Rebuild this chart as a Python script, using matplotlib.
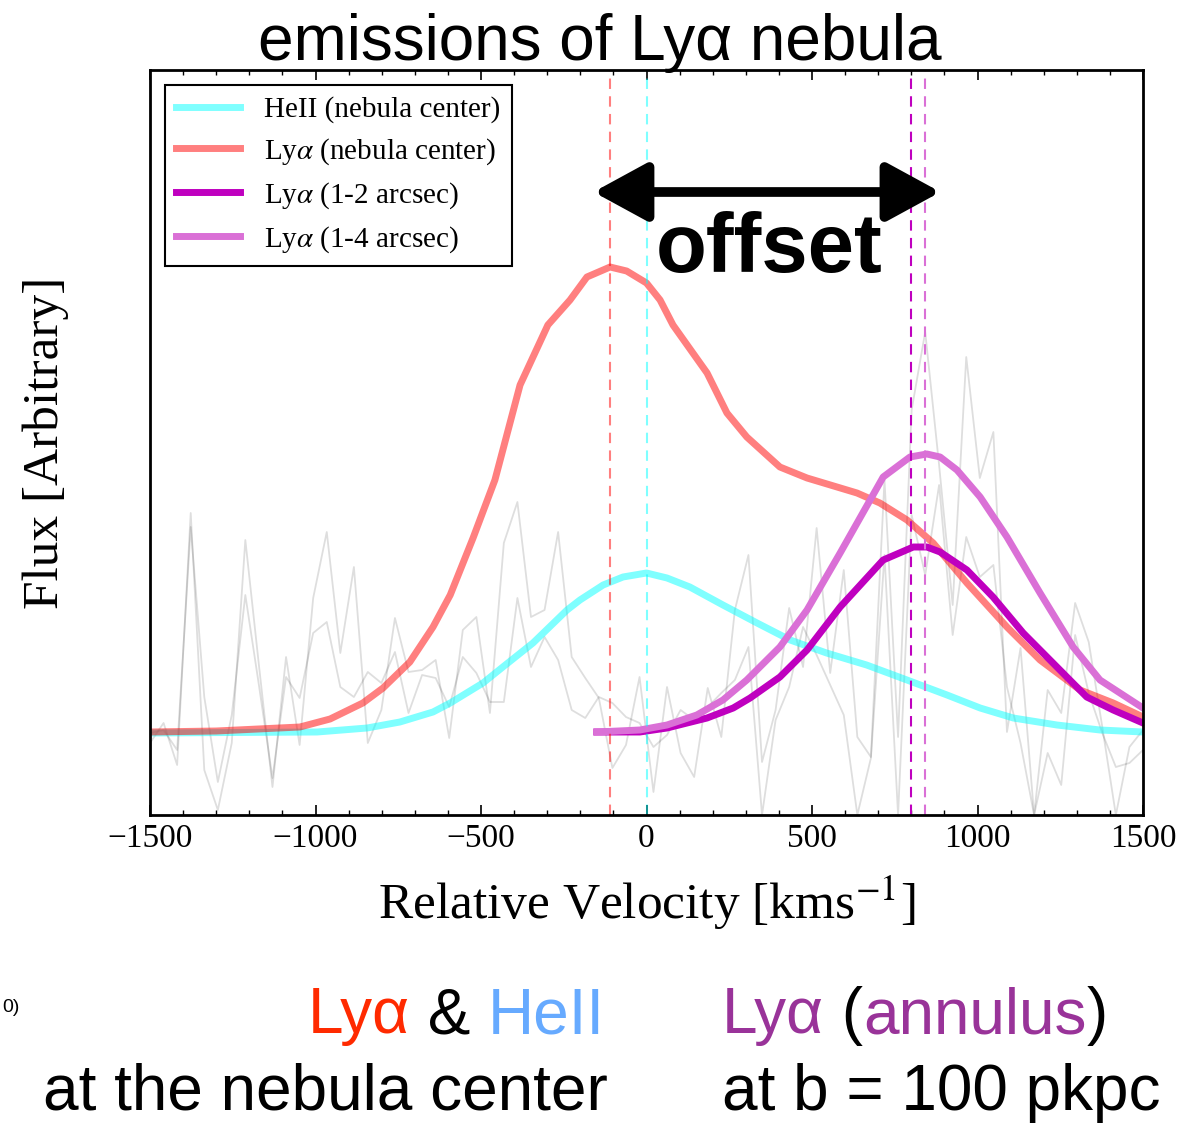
import numpy as np
import matplotlib
matplotlib.use('Agg')
import matplotlib.pyplot as plt

plt.rcParams['font.family'] = 'serif'
plt.rcParams['font.serif'] = ['Liberation Serif', 'DejaVu Serif']
plt.rcParams['mathtext.fontset'] = 'stix'

W, H = 1201, 1124

# ---- data (flux in arbitrary units) ----
heii_v = [-1500, -995, -844, -745, -645, -593, -494, -434, -343, -240, -201, -131, -71, 0,
          62, 131, 231, 334, 434, 544, 665, 787, 908, 1008, 1108, 1240, 1370, 1500]
heii_f = [82, 83, 87, 93, 103, 112, 132, 148, 172, 205, 215, 230, 238, 242,
          237, 228, 210, 192, 175, 162, 150, 135, 120, 107, 97, 90, 85, 83]

lya_v = [-1500, -1300, -1047, -956, -857, -796, -715, -645, -593, -524, -458, -382, -298, -231,
         -180, -110, -60, 0, 41, 80, 183, 243, 303, 403, 485, 636, 705, 787, 866, 968, 1089,
         1189, 1310, 1410, 1500]
lya_f = [83, 84, 88, 96, 112, 127, 153, 188, 220, 277, 335, 430, 490, 515,
         538, 548, 544, 532, 515, 490, 442, 402, 378, 348, 337, 322, 312, 295, 272, 232, 188,
         155, 125, 112, 98]

ann12_v = [-150, -20, 62, 183, 262, 313, 403, 485, 585, 715, 806, 847, 887, 968, 1047, 1138,
           1240, 1330, 1410, 1500]
ann12_f = [83, 83, 87, 97, 107, 117, 138, 165, 208, 255, 268, 268, 263, 245, 218, 182,
           148, 118, 105, 92]

ann14_v = [-150, -20, 62, 152, 231, 303, 403, 485, 585, 715, 796, 847, 887, 938, 1008, 1089,
           1189, 1289, 1370, 1500]
ann14_f = [83, 85, 90, 100, 115, 135, 168, 205, 262, 338, 358, 361, 358, 345, 318, 278,
           222, 168, 135, 107]

# noisy raw spectra (grey)
raw_v = [-1500, -1459, -1418, -1377, -1336, -1295, -1253, -1212, -1171, -1130, -1089, -1048,
         -1007, -966, -925, -884, -842, -801, -760, -719, -678, -637, -596, -555, -514, -473,
         -431, -390, -349, -308, -267, -226, -185, -144, -103, -62, -21, 21, 62, 103, 144, 185,
         226, 267, 308, 349, 390, 431, 473, 514, 555, 596, 637, 678, 719, 760, 801, 842, 884,
         925, 966, 1007, 1048, 1089, 1130, 1171, 1212, 1253, 1295, 1336, 1377, 1418, 1459, 1500]
raw_a = [72, 92, 50, 302, 45, 5, 72, 275, 150, 28, 158, 70, 217, 283, 162, 248, 72, 105, 197,
         143, 145, 155, 77, 185, 198, 102, 272, 313, 198, 205, 283, 158, 137, 117, 47, 70, 138,
         23, 128, 62, 38, 127, 78, 205, 260, 53, 105, 207, 148, 287, 142, 245, 78, 58, 335,
         78, 405, 483, 350, 210, 458, 337, 383, 83, 167, 0, 125, 102, 212, 173, 88, 0, 68, 85]
raw_b = [82, 85, 65, 288, 118, 33, 100, 220, 130, 37, 138, 117, 182, 193, 128, 118, 143, 132,
         163, 102, 140, 137, 108, 158, 142, 113, 113, 217, 148, 178, 155, 105, 97, 118, 112, 98,
         92, 68, 80, 105, 95, 108, 122, 135, 168, 0, 95, 128, 188, 160, 130, 100, 0, 57, 260,
         0, 300, 240, 330, 180, 278, 238, 250, 128, 72, 0, 62, 30, 180, 122, 82, 48, 52, 65]

peak_v = {'lya': -110, 'heii': 0, 'ann12': 800, 'ann14': 840}
arrow_v = (-160, 888)
arrow_f = 623

fig = plt.figure(figsize=(W / 100, H / 100), dpi=100)
ax = fig.add_axes([150 / W, 1 - 815 / H, (1143 - 150) / W, (815 - 70) / H])

ax.plot(raw_v, raw_a, color='k', alpha=0.13, lw=1.3)
ax.plot(raw_v, raw_b, color='k', alpha=0.13, lw=1.3)

ax.plot(heii_v, heii_f, color='cyan', alpha=0.5, lw=5, label='HeII (nebula center)')
ax.plot(lya_v, lya_f, color='r', alpha=0.5, lw=5, label=r'Ly$\alpha$ (nebula center)')
ax.plot(ann12_v, ann12_f, color='m', lw=5, label=r'Ly$\alpha$ (1-2 arcsec)')
ax.plot(ann14_v, ann14_f, color='orchid', lw=5, label=r'Ly$\alpha$ (1-4 arcsec)')

ax.axvline(peak_v['lya'], color='r', alpha=0.5, lw=1.5, dashes=(5, 3.5))
ax.axvline(peak_v['heii'], color='cyan', alpha=0.5, lw=1.5, dashes=(5, 3.5))
ax.axvline(peak_v['ann12'], color='m', lw=1.5, dashes=(5, 3.5))
ax.axvline(peak_v['ann14'], color='orchid', lw=1.5, dashes=(5, 3.5))

ax.annotate('', xy=(arrow_v[1], arrow_f), xytext=(arrow_v[0], arrow_f),
            arrowprops=dict(arrowstyle='<|-|>,head_length=2.2,head_width=1.2',
                            lw=7, color='k', mutation_scale=15, shrinkA=0, shrinkB=0))
ax.text(370, 543, 'offset', ha='center', va='baseline', fontsize=60, fontweight='bold',
        family='Liberation Sans')

ax.set_xlim(-1500, 1500)
ax.set_ylim(0, 745)
ax.set_yticks([])
ax.set_xticks([-1500, -1000, -500, 0, 500, 1000, 1500])
ax.set_xticks(np.arange(-1500, 1501, 100), minor=True)
ax.tick_params(axis='x', which='both', direction='in', top=True, bottom=True,
               labelsize=24, pad=6)
ax.tick_params(axis='x', which='major', length=7, width=1.2)
ax.tick_params(axis='x', which='minor', length=3.5, width=1.0)
for s in ax.spines.values():
    s.set_linewidth(2)

ax.set_xlabel(r'Relative Velocity [kms$^{-1}$]', fontsize=37, labelpad=14)
ax.set_ylabel('Flux [Arbitrary]', fontsize=37, labelpad=58)

leg = ax.legend(loc='upper left', fontsize=21, fancybox=False, framealpha=1,
                edgecolor='k', handlelength=2.2, borderaxespad=0.5, labelspacing=0.45)
leg.get_frame().set_linewidth(1.5)

fig.text(600 / W, 1 - 60 / H, 'emissions of Lyα nebula',
         ha='center', va='baseline', fontsize=46, family='Liberation Sans')

renderer = fig.canvas.get_renderer()


def chain(x, y, pieces, size=46):
    for s, c in pieces:
        t = fig.text(x / W, 1 - y / H, s, color=c, fontsize=size, family='Liberation Sans',
                     ha='left', va='baseline')
        x += t.get_window_extent(renderer=renderer).width


red, blue, purple = '#ff2a00', '#66aaff', '#993399'
chain(308, 1033, [('Lyα', red), (' & ', 'k'), ('HeII', blue)])
chain(722, 1033, [('Lyα', purple), (' (', 'k'), ('annulus', purple), (')', 'k')])
chain(43, 1110, [('at the nebula center', 'k')])
chain(722, 1110, [('at b = 100 pkpc', 'k')])
fig.text(2 / W, 1 - 1012 / H, '0)', fontsize=14, family='Liberation Sans', va='baseline')

fig.savefig('out.png', dpi=100)
